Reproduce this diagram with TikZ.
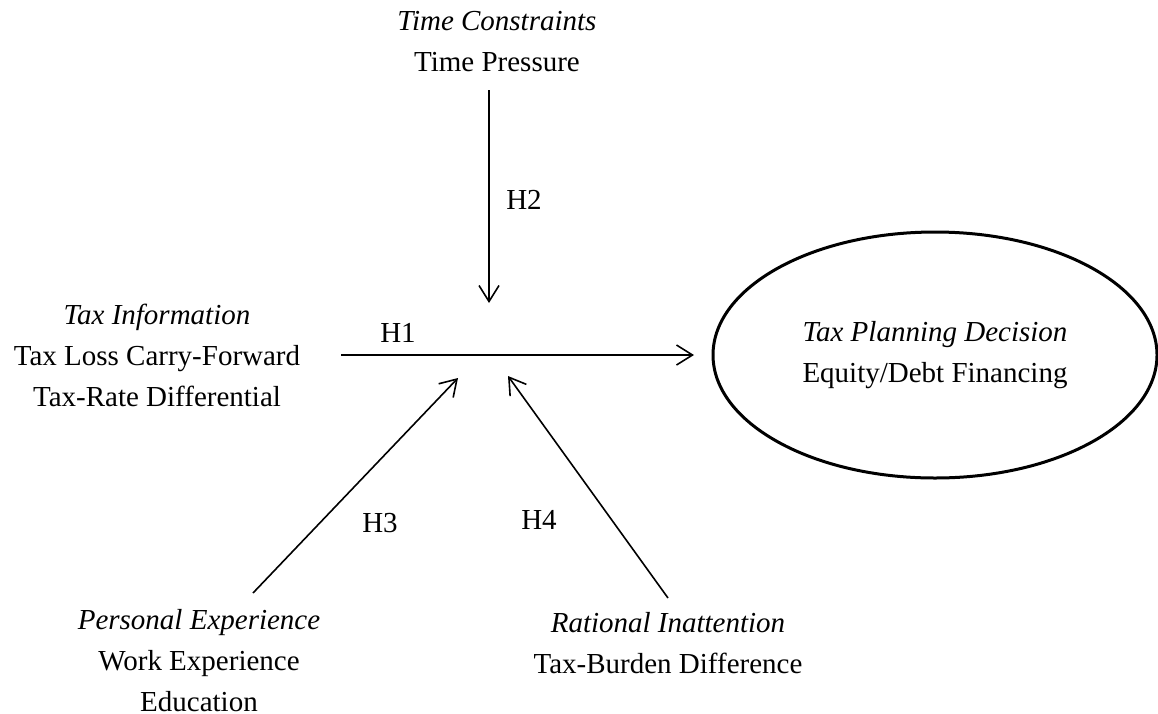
\documentclass[tikz,border=0pt]{standalone}
\usepackage{fontspec}
\setmainfont{Liberation Serif}
\usetikzlibrary{arrows.meta,shapes.geometric}
\begin{document}
\begin{tikzpicture}[x=1pt,y=-1pt,
  font=\fontsize{29}{41}\selectfont,
  lbl/.style={align=center, inner sep=0pt},
  hlab/.style={inner sep=0pt},
  conn/.style={-{Straight Barb[length=16pt,width=20pt]}, line width=1.6pt},
  decbox/.style={ellipse, draw, line width=3pt, minimum width=444pt, minimum height=246pt, align=center, inner sep=0pt}]
\useasboundingbox (0,0) rectangle (1158,713);

% text groups
\node[lbl] (tc) at (497,42) {\textit{Time Constraints}\\Time Pressure};
\node[lbl] (ti) at (157,355) {\textit{Tax Information}\\Tax Loss Carry-Forward\\Tax-Rate Differential};
\node[lbl] (pe) at (199,661) {\textit{Personal Experience}\\Work Experience\\Education};
\node[lbl] (ri) at (668,643) {\textit{Rational Inattention}\\Tax-Burden Difference};
\node[decbox] (dec) at (935,355) {\textit{Tax Planning Decision}\\Equity/Debt Financing};

% hypothesis labels
\node[hlab] (h1) at (398,333) {H1};
\node[hlab] (h2) at (524,200) {H2};
\node[hlab] (h3) at (380,523) {H3};
\node[hlab] (h4) at (539,520) {H4};

% connector end points
\coordinate (v1) at (489,90);
\coordinate (v2) at (489,303);
\coordinate (a1) at (341,355);
\coordinate (a2) at (694,355);
\coordinate (b1) at (253,593);
\coordinate (b2) at (458,378);
\coordinate (c1) at (668,598);
\coordinate (c2) at (508,376);

\draw[conn] (v1) -- (v2);
\draw[conn] (a1) -- (a2);
\draw[conn] (b1) -- (b2);
\draw[conn] (c1) -- (c2);
\end{tikzpicture}
\end{document}
